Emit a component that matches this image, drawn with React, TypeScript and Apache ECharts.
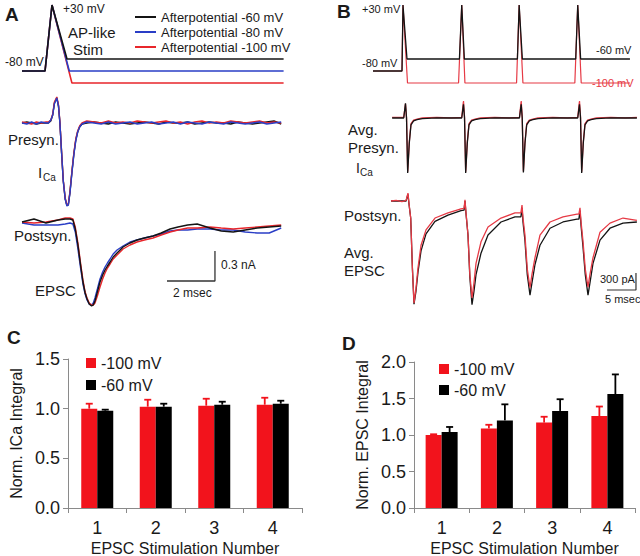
import React, { useEffect, useRef } from 'react';
import * as echarts from 'echarts';

const FONT = '"Liberation Sans", Arial, Helvetica, sans-serif';
const INK = '#1a1a1a';
const TR_BLACK = '#141414';
const TR_BLUE = '#2a3ec6';
const TR_RED = '#e8262b';
const B_RED = '#e63a45';
const BAR_RED = '#f2131c';
const BAR_BLACK = '#000000';
const AXIS_GRAY = '#8a8a8a';

// ---------- Panel A : AP-like stimulus waveforms [ms, mV]
const A_STIM_60 = [[0, -80], [0.96, -80], [1.25, 30], [1.875, -60], [10.9, -60]];
const A_STIM_80 = [[0, -80], [0.96, -80], [1.25, 30], [1.97, -80], [10.9, -80]];
const A_STIM_100 = [[0, -80], [0.96, -80], [1.25, 30], [2.08, -100], [10.9, -100]];

// ---------- Panel A : presynaptic ICa [ms] / [nA]
const A_PRE_T = [0, 0.2, 0.4, 0.6, 0.8, 1.0,
  1.1, 1.2, 1.28, 1.35, 1.45, 1.52, 1.58, 1.65, 1.72, 1.8, 1.87, 1.93, 2.0, 2.08, 2.16, 2.24, 2.32, 2.4, 2.5,
  2.7, 3.0, 3.3, 3.6, 3.9, 4.2, 4.5, 4.8, 5.1, 5.4, 5.7, 6.0, 6.3, 6.6, 6.9, 7.2, 7.5, 7.8, 8.1, 8.4, 8.7, 9.0, 9.3, 9.6, 9.9, 10.2, 10.5, 10.8];
const A_PRE_BLACK = [0.0, 0.01, 0.0, -0.01, 0.0, 0.0,
  0.0, 0.02, 0.08, 0.2, 0.25, 0.17, 0.0, -0.3, -0.58, -0.76, -0.82, -0.82, -0.69, -0.49, -0.31, -0.17, -0.09, -0.04, -0.01,
  0.0, 0.01, 0.0, -0.01, 0.01, 0.0, -0.01, 0.0, 0.01, 0.0, -0.01, 0.01, 0.0, 0.0, 0.01, -0.01, 0.0, 0.01, 0.0, 0.0, -0.01, 0.01, 0.0, -0.01, 0.0, 0.01, 0.02, -0.01];
const A_PRE_BLUE = [0.0, -0.01, 0.01, -0.01, 0.01, 0.0,
  0.0, 0.03, 0.08, 0.19, 0.25, 0.17, 0.0, -0.3, -0.58, -0.76, -0.83, -0.82, -0.7, -0.5, -0.32, -0.18, -0.09, -0.04, -0.01,
  0.01, 0.0, -0.01, 0.01, -0.01, 0.0, 0.01, -0.01, 0.0, 0.01, -0.01, 0.0, 0.01, -0.01, 0.01, 0.0, -0.01, 0.01, 0.0, -0.01, 0.01, 0.0, -0.01, 0.0, 0.01, -0.01, 0.0, 0.01];
const A_PRE_RED = [0.01, 0.0, -0.01, 0.01, 0.0, 0.01,
  0.01, 0.03, 0.09, 0.21, 0.26, 0.18, 0.01, -0.29, -0.57, -0.75, -0.82, -0.81, -0.68, -0.48, -0.3, -0.16, -0.08, -0.03, 0.0,
  0.02, 0.01, 0.0, 0.02, 0.0, 0.01, 0.0, 0.02, 0.01, 0.0, 0.01, 0.02, 0.0, 0.01, -0.01, 0.01, 0.02, 0.0, 0.01, 0.0, 0.02, 0.01, 0.0, 0.01, 0.02, 0.0, 0.01, 0.0];

// ---------- Panel A : EPSC [ms] / [nA]
const A_EPSC_T = [0, 0.5, 1.0, 1.5, 1.8, 2.0,
  2.12, 2.22, 2.33, 2.44, 2.54, 2.63, 2.71, 2.8, 2.9, 2.97,
  3.04, 3.14, 3.25, 3.36, 3.46, 3.56, 3.67, 3.8, 3.96,
  4.21, 4.5, 4.79, 5.1, 5.46, 5.8,
  6.17, 6.5, 6.9, 7.3, 7.83, 8.3, 8.8, 9.3, 9.8, 10.3, 10.8];
const A_EPSC_BLACK = [0.01, 0.04, 0.0, 0.03, 0.04, 0.04,
  0.03, -0.06, -0.22, -0.42, -0.59, -0.7, -0.76, -0.81, -0.83, -0.82,
  -0.78, -0.69, -0.59, -0.52, -0.47, -0.43, -0.39, -0.34, -0.3,
  -0.24, -0.2, -0.17, -0.15, -0.13, -0.1,
  -0.06, -0.04, -0.02, -0.01, -0.05, -0.08, -0.09, -0.07, -0.05, -0.04, -0.03];
const A_EPSC_RED = [0.01, 0.0, 0.01, 0.03, 0.05, 0.05,
  0.04, -0.04, -0.2, -0.4, -0.57, -0.69, -0.75, -0.8, -0.82, -0.82,
  -0.8, -0.73, -0.64, -0.56, -0.5, -0.45, -0.41, -0.36, -0.32,
  -0.26, -0.22, -0.19, -0.17, -0.15, -0.12,
  -0.09, -0.07, -0.05, -0.05, -0.04, -0.05, -0.06, -0.05, -0.04, -0.03, -0.02];
const A_EPSC_BLUE = [0.0, -0.02, -0.02, -0.02, -0.01, 0.0,
  -0.01, -0.09, -0.26, -0.45, -0.61, -0.71, -0.77, -0.81, -0.82, -0.8,
  -0.75, -0.66, -0.56, -0.49, -0.44, -0.4, -0.36, -0.31, -0.27,
  -0.23, -0.19, -0.17, -0.15, -0.13, -0.11,
  -0.08, -0.07, -0.07, -0.06, -0.06, -0.07, -0.07, -0.09, -0.1, -0.1, -0.05];
const A_SCALE = [[6.04, -0.58], [8.04, -0.58], [8.04, -0.28]]; // 2 ms x 0.3 nA

// ---------- Panel B : 100 Hz train stimulus [ms, mV]
const B_STIM_60 = [[0, -80], [5.0, -80], [5.17, 30], [5.86, -60], [14.9, -60], [15.3, 30], [15.75, -60], [24.9, -60], [25.2, 30], [25.75, -60], [34.95, -60], [35.3, 30], [35.8, -60], [44.3, -60]];
const B_STIM_100 = [[0, -80], [5.0, -80], [5.17, 30], [5.95, -100], [14.75, -100], [15.3, 30], [15.85, -100], [24.75, -100], [25.2, 30], [25.85, -100], [34.8, -100], [35.3, 30], [35.9, -100], [44.3, -100]];

// ---------- Panel B : avg presynaptic ICa [ms] / [nA]
const B_PRE_T = [3.3, 5.3, 5.6, 5.78, 5.98, 6.25, 6.55, 7.0, 7.6, 8.5, 11.0, 13.5,
  15.3, 15.6, 15.78, 15.98, 16.25, 16.55, 17.0, 17.6, 18.5, 21.0, 23.5,
  25.25, 25.55, 25.73, 25.93, 26.2, 26.5, 26.95, 27.55, 28.45, 31.0, 33.5,
  35.3, 35.6, 35.78, 35.98, 36.25, 36.55, 37.0, 37.6, 38.5, 41.0, 43.5, 45.5];
const B_PRE_BLACK = [0, 0, 0.26, 0.0, -0.97, -0.45, -0.12, -0.05, -0.03, -0.01, 0.0, 0.0,
  0.0, 0.24, 0.0, -0.97, -0.45, -0.12, -0.05, -0.03, -0.01, 0.0, 0.0,
  0.0, 0.24, 0.0, -0.96, -0.45, -0.12, -0.05, -0.03, -0.01, 0.0, 0.0,
  0.0, 0.24, 0.0, -0.97, -0.45, -0.12, -0.05, -0.03, -0.01, 0.0, 0.0, 0.0];
const B_PRE_RED = [0.01, 0.01, 0.25, 0.0, -0.95, -0.43, -0.1, -0.04, -0.02, 0.0, 0.01, 0.0,
  0.01, 0.3, 0.02, -0.95, -0.43, -0.1, -0.04, -0.02, 0.0, 0.01, 0.0,
  0.01, 0.3, 0.02, -0.94, -0.43, -0.1, -0.04, -0.02, 0.0, 0.01, 0.0,
  0.01, 0.3, 0.02, -0.95, -0.43, -0.1, -0.04, -0.02, 0.0, 0.01, 0.0, 0.01];

// ---------- Panel B : avg EPSC [ms] / [nA]
const B_POST_T = [3.1, 4.0, 5.0, 5.7,
  6.03, 6.2, 6.5, 6.8, 7.07, 7.4, 7.76, 8.28, 9.14, 10.69, 12.93, 15.17,
  15.7, 15.86, 16.03, 16.38, 16.7, 17.07, 17.4, 17.76, 18.62, 19.83, 22.07, 24.48,
  25.5, 25.69, 25.86, 26.2, 26.6, 27.07, 27.4, 27.93, 28.79, 30.52, 32.76, 35.17,
  35.5, 35.69, 35.86, 36.2, 36.6, 37.07, 37.4, 37.93, 39.14, 40.86, 43.1, 45.5];
const B_POST_RED = [0, 0.01, -0.01, 0.01,
  0.14, -0.04, -0.3, -1.2, -1.8, -1.55, -1.18, -0.78, -0.51, -0.3, -0.21, -0.14,
  -0.13, 0.02, -0.2, -0.6, -1.3, -1.71, -1.45, -1.1, -0.72, -0.46, -0.3, -0.21,
  -0.21, -0.07, -0.3, -0.6, -1.2, -1.53, -1.3, -1.0, -0.6, -0.37, -0.28, -0.23,
  -0.23, -0.12, -0.36, -0.7, -1.2, -1.52, -1.3, -1.0, -0.55, -0.39, -0.3, -0.34];
const B_POST_BLACK = [0, 0, 0, 0,
  0.12, -0.05, -0.3, -1.2, -1.82, -1.6, -1.25, -0.88, -0.58, -0.36, -0.25, -0.17,
  -0.16, 0.0, -0.22, -0.6, -1.35, -1.83, -1.6, -1.3, -0.92, -0.6, -0.37, -0.28,
  -0.28, -0.12, -0.37, -0.7, -1.3, -1.66, -1.45, -1.12, -0.78, -0.48, -0.37, -0.32,
  -0.32, -0.17, -0.42, -0.8, -1.3, -1.66, -1.45, -1.1, -0.69, -0.48, -0.39, -0.37];
const B_SCALE = [[40.34, -1.57], [45.34, -1.57], [45.34, -1.27]]; // 5 ms x 300 pA

// ---------- Panels C & D : bar data
const STIM_NUMBERS = ['1', '2', '3', '4'];
const C_RED = [1.0, 1.02, 1.03, 1.04];
const C_RED_SEM = [0.05, 0.07, 0.07, 0.07];
const C_BLACK = [0.98, 1.02, 1.04, 1.05];
const C_BLACK_SEM = [0.01, 0.03, 0.03, 0.03];
const D_RED = [1.0, 1.09, 1.17, 1.26];
const D_RED_SEM = [0.01, 0.05, 0.08, 0.13];
const D_BLACK = [1.04, 1.2, 1.33, 1.56];
const D_BLACK_SEM = [0.07, 0.22, 0.16, 0.27];

const zip = (t: number[], v: number[]) => t.map((x, i) => [x, v[i]]);

function line(name: string, grid: number, data: number[][], color: string, width: number, z = 2) {
  return {
    type: 'line', name, xAxisIndex: grid, yAxisIndex: grid, data,
    showSymbol: false, symbol: 'none', smooth: false, z,
    color, itemStyle: { color }, lineStyle: { color, width },
    silent: true,
  };
}

function errSeries(name: string, grid: number, vals: number[], sems: number[], color: string, offset: number) {
  return {
    type: 'custom', name, xAxisIndex: grid, yAxisIndex: grid, z: 5, silent: true,
    data: vals.map((v, i) => [i, v, v + sems[i]]),
    renderItem: (_p: any, api: any) => {
      const base = api.coord([api.value(0), api.value(1)]);
      const top = api.coord([api.value(0), api.value(2)]);
      const x = base[0] + offset;
      return {
        type: 'group',
        children: [
          { type: 'line', shape: { x1: x, y1: base[1], x2: x, y2: top[1] }, style: { stroke: color, lineWidth: 1.8 } },
          { type: 'line', shape: { x1: x - 3.5, y1: top[1], x2: x + 3.5, y2: top[1] }, style: { stroke: color, lineWidth: 1.8 } },
        ],
      };
    },
  };
}

function txt(text: string, x: number, y: number, size: number, opts: any = {}) {
  return {
    type: 'text', x, y, silent: true,
    style: {
      text, fill: opts.fill || INK, fontSize: size, fontFamily: FONT,
      fontWeight: opts.bold ? 'bold' : 'normal',
      align: 'left', verticalAlign: 'middle', textAlign: 'left', textVerticalAlign: 'middle',
    },
  };
}

export default function App() {
  const ref = useRef<HTMLDivElement>(null);
  useEffect(() => {
    document.body.style.margin = '0';
    if (!ref.current) return;
    const chart = echarts.init(ref.current, undefined, { renderer: 'svg' });

    const hiddenGrid = (left: number, top: number, width: number, height: number) => ({
      left, top, width, height, containLabel: false, outerBoundsMode: 'none', show: false,
    });
    const grids = [
      hiddenGrid(22, 5, 264, 84),        // 0 A stim
      hiddenGrid(22, 83, 264, 140),      // 1 A presyn
      hiddenGrid(22, 193, 264, 130),     // 2 A postsyn
      hiddenGrid(373, 5, 266.8, 84),     // 3 B stim
      hiddenGrid(373, 95.3, 266.8, 90.7),// 4 B presyn
      hiddenGrid(373, 184, 266.8, 130.4),// 5 B postsyn
      { left: 68, top: 359, width: 234, height: 149, containLabel: false, outerBoundsMode: 'none' }, // 6 C
      { left: 414, top: 362, width: 221, height: 146, containLabel: false, outerBoundsMode: 'none' }, // 7 D
    ];
    const hx = (g: number, max: number) => ({ type: 'value', gridIndex: g, min: 0, max, show: false, splitLine: { show: false } });
    const hy = (g: number, min: number, max: number) => ({ type: 'value', gridIndex: g, min, max, show: false, splitLine: { show: false } });

    const catAxis = (g: number) => ({
      type: 'category', gridIndex: g, data: STIM_NUMBERS,
      axisLine: { show: true, lineStyle: { color: AXIS_GRAY, width: 1 } },
      axisTick: { show: true, length: 5, lineStyle: { color: AXIS_GRAY } },
      axisLabel: { fontSize: 18, color: INK, margin: 11, fontFamily: FONT },
      name: 'EPSC Stimulation Number', nameLocation: 'middle', nameGap: 33,
      nameTextStyle: { fontSize: 16, lineHeight: 14, color: INK, fontFamily: FONT },
    });
    const valAxis = (g: number, max: number, name: string) => ({
      type: 'value', gridIndex: g, min: 0, max, interval: 0.5,
      axisLine: { show: true, lineStyle: { color: AXIS_GRAY, width: 1 } },
      axisTick: { show: true, length: 5, lineStyle: { color: AXIS_GRAY } },
      splitLine: { show: false },
      axisLabel: { fontSize: 18, color: INK, margin: 8, fontFamily: FONT, formatter: (v: number) => v.toFixed(1) },
      name, nameLocation: 'middle', nameGap: 44,
      nameTextStyle: { fontSize: 16, color: INK, fontFamily: FONT },
    });

    const bar = (name: string, g: number, data: number[], color: string) => ({
      type: 'bar', name, xAxisIndex: g, yAxisIndex: g, data, barWidth: 16, barGap: '0%',
      color, itemStyle: { color }, silent: true, z: 3,
    });

    const option: any = {
      animation: false,
      textStyle: { fontFamily: FONT },
      grid: grids,
      xAxis: [hx(0, 11), hx(1, 11), hx(2, 11), hx(3, 46), hx(4, 46), hx(5, 46), catAxis(6), catAxis(7)],
      yAxis: [hy(0, -110, 30), hy(1, -1.0, 0.4), hy(2, -1.0, 0.3), hy(3, -110, 30), hy(4, -1.2, 0.4), hy(5, -2.0, 0.3),
        valAxis(6, 1.5, 'Norm. ICa Integral'), valAxis(7, 2.0, 'Norm. EPSC Integral')],
      legend: [
        {
          data: ['Afterpotential -60 mV', 'Afterpotential -80 mV', 'Afterpotential -100 mV'],
          orient: 'vertical', left: 135, top: 9.5, padding: 0, itemGap: 0,
          itemWidth: 21, itemHeight: 2, icon: 'rect', selectedMode: false,
          textStyle: { fontSize: 13, lineHeight: 15, color: INK, fontFamily: FONT },
        },
        {
          data: ['-100 mV', '-60 mV'], orient: 'vertical', left: 86, top: 355, padding: 0, itemGap: 6,
          itemWidth: 10, itemHeight: 10, icon: 'rect', selectedMode: false,
          textStyle: { fontSize: 16, lineHeight: 16, color: INK, fontFamily: FONT },
        },
        {
          data: ['-100 mV', '-60 mV'], orient: 'vertical', left: 439, top: 361, padding: 0, itemGap: 5,
          itemWidth: 10, itemHeight: 10, icon: 'rect', selectedMode: false,
          textStyle: { fontSize: 16, lineHeight: 16, color: INK, fontFamily: FONT },
        },
      ],
      series: [
        // A stim
        line('Afterpotential -100 mV', 0, A_STIM_100, TR_RED, 1.6, 2),
        line('Afterpotential -80 mV', 0, A_STIM_80, TR_BLUE, 1.6, 3),
        line('Afterpotential -60 mV', 0, A_STIM_60, TR_BLACK, 1.6, 4),
        // A presyn
        line('a-pre-black', 1, zip(A_PRE_T, A_PRE_BLACK), TR_BLACK, 1.4, 2),
        line('a-pre-red', 1, zip(A_PRE_T, A_PRE_RED), TR_RED, 1.4, 3),
        line('a-pre-blue', 1, zip(A_PRE_T, A_PRE_BLUE), TR_BLUE, 1.4, 4),
        // A EPSC
        line('a-epsc-blue', 2, zip(A_EPSC_T, A_EPSC_BLUE), TR_BLUE, 1.4, 2),
        line('a-epsc-red', 2, zip(A_EPSC_T, A_EPSC_RED), TR_RED, 1.4, 3),
        line('a-epsc-black', 2, zip(A_EPSC_T, A_EPSC_BLACK), TR_BLACK, 1.4, 4),
        line('a-scale', 2, A_SCALE, '#333333', 1.3, 5),
        // B stim
        line('b-stim-100', 3, B_STIM_100, B_RED, 1.2, 2),
        line('b-stim-60', 3, B_STIM_60, TR_BLACK, 1.3, 3),
        // B presyn
        line('b-pre-red', 4, zip(B_PRE_T, B_PRE_RED), B_RED, 1.3, 2),
        line('b-pre-black', 4, zip(B_PRE_T, B_PRE_BLACK), TR_BLACK, 1.3, 3),
        // B EPSC
        line('b-post-black', 5, zip(B_POST_T, B_POST_BLACK), TR_BLACK, 1.3, 2),
        line('b-post-red', 5, zip(B_POST_T, B_POST_RED), B_RED, 1.3, 3),
        line('b-scale', 5, B_SCALE, '#333333', 1.2, 5),
        // C bars
        bar('-100 mV', 6, C_RED, BAR_RED),
        bar('-60 mV', 6, C_BLACK, BAR_BLACK),
        errSeries('c-err-red', 6, C_RED, C_RED_SEM, BAR_RED, -8),
        errSeries('c-err-black', 6, C_BLACK, C_BLACK_SEM, BAR_BLACK, 8),
        // D bars
        bar('-100 mV', 7, D_RED, BAR_RED),
        bar('-60 mV', 7, D_BLACK, BAR_BLACK),
        errSeries('d-err-red', 7, D_RED, D_RED_SEM, BAR_RED, -8),
        errSeries('d-err-black', 7, D_BLACK, D_BLACK_SEM, BAR_BLACK, 8),
      ],
      graphic: [
        txt('A', 5, 14.5, 19, { bold: true }),
        txt('+30 mV', 63, 9, 12),
        txt('AP-like', 68, 32, 15),
        txt('Stim', 73, 49, 15),
        txt('-80 mV', 5, 62, 12),
        txt('Presyn.', 8, 139, 15),
        txt('I', 38, 172, 15),
        txt('Ca', 43, 177, 10),
        txt('Postsyn.', 14, 235, 15),
        txt('EPSC', 35, 290, 15),
        txt('0.3 nA', 221, 265, 12),
        txt('2 msec', 173, 293, 12),
        txt('B', 337, 11, 19, { bold: true }),
        txt('+30 mV', 362, 9, 11),
        txt('-80 mV', 362, 63, 11),
        txt('-60 mV', 596, 50, 11),
        txt('-100 mV', 592, 83, 11, { fill: B_RED }),
        txt('Avg.', 348, 129, 15),
        txt('Presyn.', 348, 147, 15),
        txt('I', 356, 168, 14),
        txt('Ca', 360, 172, 10),
        txt('Postsyn.', 344, 215, 15),
        txt('Avg.', 344, 252, 15),
        txt('EPSC', 344, 270, 15),
        txt('300 pA', 600, 279, 11),
        txt('5 msec', 605, 299, 11),
        txt('C', 7, 337, 19, { bold: true }),
        txt('D', 342, 343.5, 19, { bold: true }),
      ],
    };
    chart.setOption(option);
    return () => chart.dispose();
  }, []);
  return <div ref={ref} style={{ width: 640, height: 556 }} />;
}
